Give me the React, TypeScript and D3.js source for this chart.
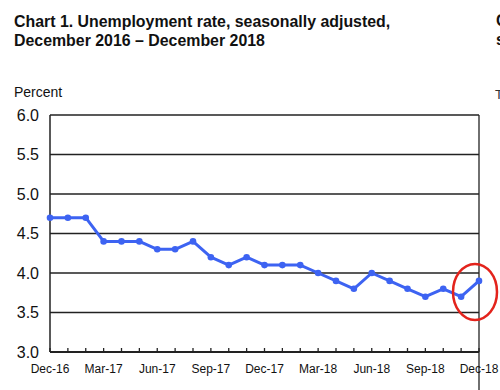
import * as d3 from "d3";

const W = 500;
const H = 390;
const M = { top: 115, right: 21, bottom: 38, left: 50 };

const months = [
  "Dec-16", "Jan-17", "Feb-17", "Mar-17", "Apr-17", "May-17", "Jun-17", "Jul-17", "Aug-17",
  "Sep-17", "Oct-17", "Nov-17", "Dec-17", "Jan-18", "Feb-18", "Mar-18", "Apr-18", "May-18",
  "Jun-18", "Jul-18", "Aug-18", "Sep-18", "Oct-18", "Nov-18", "Dec-18",
];
const rates = [
  4.7, 4.7, 4.7, 4.4, 4.4, 4.4, 4.3, 4.3, 4.4, 4.2, 4.1, 4.2, 4.1, 4.1, 4.1, 4.0, 3.9, 3.8,
  4.0, 3.9, 3.8, 3.7, 3.8, 3.7, 3.9,
];
const yTicks = [3.0, 3.5, 4.0, 4.5, 5.0, 5.5, 6.0];
const xLabels = ["Dec-16", "Mar-17", "Jun-17", "Sep-17", "Dec-17", "Mar-18", "Jun-18", "Sep-18", "Dec-18"];

const FONT = "Liberation Sans, Arial, sans-serif";

export default function App() {
  const x = d3.scalePoint<string>().domain(months).range([M.left, W - M.right]);
  const y = d3.scaleLinear().domain([3, 6]).range([H - M.bottom, M.top]);
  const line = d3
    .line<number>()
    .x((_, i) => x(months[i]) as number)
    .y((d) => y(d));
  const pts = rates.map((r, i) => ({ cx: x(months[i]) as number, cy: y(r) }));
  const last = pts[pts.length - 1];

  return (
    <svg
      width={W}
      height={H}
      style={{ position: "absolute", left: 0, top: 0, background: "#fff" }}
      fontFamily={FONT}
    >
      <text x={14} y={27} fontSize={15.9} fontWeight={700} fill="#111">
        Chart 1. Unemployment rate, seasonally adjusted,
      </text>
      <text x={14} y={46} fontSize={15.9} fontWeight={700} fill="#111">
        December 2016 – December 2018
      </text>
      {/* cropped neighbour chart at the right edge */}
      <text x={496} y={26} fontSize={15.9} fontWeight={700} fill="#111">C</text>
      <text x={496} y={45} fontSize={15.9} fontWeight={700} fill="#111">s</text>
      <text x={495} y={99} fontSize={13} fill="#333">T</text>

      <text x={14} y={97} fontSize={14} fill="#111">Percent</text>

      {yTicks.map((t) => (
        <g key={t}>
          <line
            x1={M.left}
            x2={W - M.right}
            y1={y(t)}
            y2={y(t)}
            stroke="#222"
            strokeWidth={t === 3 ? 2 : 1.3}
          />
          <text
            x={39}
            y={y(t)}
            dy="0.35em"
            textAnchor="end"
            fontSize={16}
            fill="#111"
          >
            {t.toFixed(1)}
          </text>
        </g>
      ))}
      <line x1={M.left} x2={M.left} y1={M.top} y2={H - M.bottom} stroke="#222" strokeWidth={1.5} />
      <line x1={W - M.right} x2={W - M.right} y1={M.top} y2={H} stroke="#222" strokeWidth={1.3} />

      {months.map((m) => (
        <line
          key={m}
          x1={x(m)}
          x2={x(m)}
          y1={H - M.bottom}
          y2={H - M.bottom - 4}
          stroke="#222"
          strokeWidth={1.3}
        />
      ))}
      {xLabels.map((m) => (
        <text
          key={m}
          x={x(m)}
          y={H - M.bottom + 21}
          textAnchor="middle"
          fontSize={12}
          fill="#111"
        >
          {m}
        </text>
      ))}

      <path
        d={line(rates) ?? ""}
        fill="none"
        stroke="#3d63f2"
        strokeWidth={3}
        strokeLinejoin="round"
      />
      {pts.map((p, i) => (
        <circle key={i} cx={p.cx} cy={p.cy} r={3.3} fill="#3d63f2" />
      ))}

      <ellipse
        cx={last.cx - 4}
        cy={last.cy + 11}
        rx={22}
        ry={28}
        fill="none"
        stroke="#e3231c"
        strokeWidth={2.5}
      />
    </svg>
  );
}
